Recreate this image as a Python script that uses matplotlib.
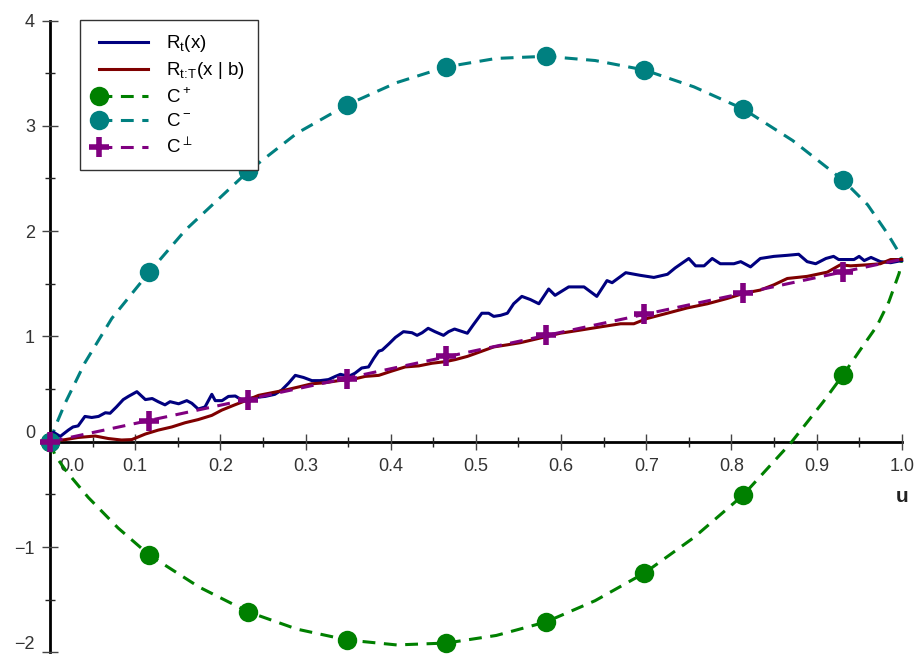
import numpy as np
import matplotlib
matplotlib.use('Agg')
import matplotlib.pyplot as plt
from matplotlib.lines import Line2D
from matplotlib.legend_handler import HandlerLine2D
from matplotlib.transforms import ScaledTranslation

plt.rcParams['font.family'] = ['Liberation Sans', 'DejaVu Sans']
plt.rcParams['mathtext.fontset'] = 'custom'
plt.rcParams['mathtext.rm'] = 'Liberation Sans'

# ── Data ─────────────────────────────────────────────────────────────────────
# noisy path R_t(x)
blue_u = [0.0, 0.004, 0.012, 0.0215, 0.027, 0.033, 0.041, 0.049, 0.057, 0.065,
          0.0705, 0.078, 0.086, 0.092, 0.102, 0.112, 0.12, 0.127, 0.135, 0.141,
          0.151, 0.1606, 0.1665, 0.174, 0.182, 0.19, 0.194, 0.202, 0.2095, 0.2175,
          0.2253, 0.233, 0.241, 0.2526, 0.264, 0.272, 0.28, 0.288, 0.2976, 0.3075,
          0.317, 0.327, 0.335, 0.341, 0.3505, 0.358, 0.366, 0.374, 0.38, 0.386,
          0.39, 0.398, 0.4055, 0.415, 0.425, 0.431, 0.437, 0.444, 0.452, 0.462,
          0.468, 0.475, 0.49, 0.497, 0.507, 0.515, 0.521, 0.529, 0.537, 0.5444,
          0.554, 0.564, 0.574, 0.5855, 0.593, 0.609, 0.627, 0.642, 0.654, 0.66,
          0.676, 0.693, 0.709, 0.725, 0.734, 0.75, 0.758, 0.768, 0.7775, 0.787,
          0.803, 0.811, 0.8225, 0.834, 0.85, 0.8657, 0.879, 0.889, 0.899, 0.911,
          0.92, 0.926, 0.936, 0.944, 0.95, 0.956, 0.964, 0.975, 0.987, 1.0]
blue_y = [0.0, 0.09, 0.05, 0.11, 0.14, 0.15, 0.24, 0.23, 0.24, 0.275,
          0.27, 0.33, 0.40, 0.43, 0.475, 0.40, 0.41, 0.38, 0.35, 0.38,
          0.36, 0.39, 0.365, 0.31, 0.33, 0.45, 0.39, 0.39, 0.43, 0.434,
          0.396, 0.41, 0.42, 0.43, 0.45, 0.49, 0.555, 0.63, 0.61, 0.58,
          0.58, 0.59, 0.62, 0.64, 0.62, 0.65, 0.70, 0.71, 0.79, 0.86,
          0.87, 0.93, 0.99, 1.045, 1.035, 1.01, 1.035, 1.077, 1.045, 1.01,
          1.045, 1.07, 1.03, 1.11, 1.22, 1.22, 1.19, 1.20, 1.22, 1.31,
          1.38, 1.35, 1.31, 1.45, 1.39, 1.47, 1.47, 1.38, 1.53, 1.51,
          1.605, 1.58, 1.56, 1.59, 1.65, 1.74, 1.67, 1.67, 1.74, 1.69,
          1.69, 1.71, 1.66, 1.74, 1.76, 1.77, 1.78, 1.71, 1.69, 1.74,
          1.76, 1.73, 1.73, 1.73, 1.76, 1.72, 1.75, 1.71, 1.70, 1.72]

# bridge R_{t:T}(x | b)
red_u = [0.0, 0.018, 0.033, 0.053, 0.0685, 0.084, 0.096, 0.112, 0.127, 0.143,
         0.1586, 0.174, 0.19, 0.2017, 0.217, 0.233, 0.2448, 0.2605, 0.276, 0.292,
         0.3075, 0.323, 0.339, 0.3545, 0.37, 0.386, 0.401, 0.417, 0.433, 0.4485,
         0.464, 0.476, 0.49, 0.5055, 0.521, 0.537, 0.552, 0.568, 0.5837, 0.599,
         0.6228, 0.646, 0.67, 0.6855, 0.701, 0.7247, 0.748, 0.772, 0.795, 0.815,
         0.834, 0.85, 0.8657, 0.889, 0.9126, 0.928, 0.94, 0.96, 0.975, 0.987, 1.0]
red_y = [0.0, 0.02, 0.04, 0.054, 0.03, 0.016, 0.02, 0.073, 0.11, 0.14,
         0.18, 0.21, 0.25, 0.30, 0.35, 0.40, 0.44, 0.465, 0.49, 0.52,
         0.55, 0.56, 0.58, 0.59, 0.62, 0.63, 0.67, 0.71, 0.72, 0.745,
         0.76, 0.78, 0.81, 0.855, 0.90, 0.92, 0.94, 0.97, 1.0, 1.03,
         1.06, 1.09, 1.12, 1.12, 1.17, 1.22, 1.27, 1.31, 1.36, 1.41,
         1.44, 1.49, 1.55, 1.57, 1.61, 1.68, 1.67, 1.68, 1.69, 1.73, 1.73]

# dashed curves
cminus_u = [0.0, 0.006, 0.018, 0.041, 0.0725, 0.1165, 0.159, 0.233, 0.29, 0.349,
            0.407, 0.4655, 0.524, 0.582, 0.64, 0.698, 0.756, 0.814, 0.872, 0.931,
            0.96, 0.983, 0.9965, 1.0]
cminus_y = [0.0, 0.14, 0.37, 0.75, 1.17, 1.61, 2.01, 2.57, 2.93, 3.20,
            3.41, 3.56, 3.64, 3.66, 3.62, 3.53, 3.37, 3.16, 2.86, 2.485,
            2.25, 1.98, 1.80, 1.732]
cplus_u = [0.0, 0.006, 0.0196, 0.045, 0.08, 0.1165, 0.175, 0.233, 0.29, 0.349,
           0.407, 0.4655, 0.524, 0.582, 0.64, 0.698, 0.756, 0.814, 0.87, 0.908,
           0.931, 0.952, 0.971, 0.985, 0.997, 1.0]
cplus_y = [0.0, -0.13, -0.285, -0.53, -0.82, -1.076, -1.38, -1.617, -1.78, -1.883,
           -1.93, -1.912, -1.84, -1.713, -1.51, -1.247, -0.91, -0.506, -0.01, 0.38,
           0.633, 0.88, 1.10, 1.33, 1.60, 1.732]
cperp_u = [0.0, 1.0]
cperp_y = [0.0, 1.732]

# marker positions along the C curves
mark_u = [0.0, 0.1165, 0.233, 0.349, 0.4655, 0.582, 0.698, 0.814, 0.931]
mark_plus = [0.0, -1.076, -1.617, -1.883, -1.912, -1.713, -1.247, -0.506, 0.633]
mark_minus = [0.0, 1.61, 2.57, 3.20, 3.56, 3.66, 3.53, 3.16, 2.485]
mark_perp = [0.0, 0.20, 0.40, 0.60, 0.81, 1.01, 1.21, 1.41, 1.61]

xticks_major = [0.0, 0.1, 0.2, 0.3, 0.4, 0.5, 0.6, 0.7, 0.8, 0.9, 1.0]
xticks_minor = [0.05, 0.15, 0.25, 0.35, 0.45, 0.55, 0.65, 0.75, 0.85, 0.95]
yticks_major = [-2, -1, 0, 1, 2, 3, 4]
yticks_minor = [-1.5, -0.5, 0.5, 1.5, 2.5, 3.5]

NAVY = '#00007f'
DRED = '#7f0000'
GREEN = '#008000'
TEAL = '#008080'
PURPLE = '#800080'

# ── Figure ───────────────────────────────────────────────────────────────────
W, H = 919, 654
fig = plt.figure(figsize=(W / 100, H / 100), dpi=100)
ax = fig.add_axes([0, 0, 1, 1])
ax.patch.set_alpha(0)

# pixel geometry: x=0 at px 50, x=1 at px 901.7; y=0 at py 441.7, 105.3 px/unit
x0, xs = 50.0, 851.7
y0, ys = 441.7, 105.3
ax.set_xlim(-x0 / xs, (W - x0) / xs)
ax.set_ylim(-(H - y0) / ys, y0 / ys)

dash = (0, (4.2, 2.8))
lw = 2.2
ms_dot = 14
ms_plus = 15
mew_plus = 4.0

ax.plot(cplus_u, cplus_y, color=GREEN, lw=lw, ls=dash, zorder=2)
ax.plot(cminus_u, cminus_y, color=TEAL, lw=lw, ls=dash, zorder=2)
ax.plot(blue_u, blue_y, color=NAVY, lw=lw, zorder=3)
ax.plot(red_u, red_y, color=DRED, lw=lw, zorder=3)
ax.plot(cperp_u, cperp_y, color=PURPLE, lw=lw, ls=dash, zorder=4)

ax.plot(mark_u, mark_plus, 'o', color=GREEN, ms=ms_dot, mec='none', zorder=5)
ax.plot(mark_u, mark_minus, 'o', color=TEAL, ms=ms_dot, mec='none', zorder=5)
ax.plot(mark_u, mark_perp, '+', color=PURPLE, ms=ms_plus, mew=mew_plus, zorder=6)

# ── Axes through the origin ─────────────────────────────────────────────────
for s in ['top', 'right']:
    ax.spines[s].set_visible(False)
ax.spines['left'].set_position(('data', 0))
ax.spines['bottom'].set_position(('data', 0))
ax.spines['left'].set_bounds(-2, 4)
ax.spines['bottom'].set_bounds(0, 1)
ax.spines['left'].set_linewidth(2.0)
ax.spines['bottom'].set_linewidth(2.0)
ax.spines['left'].set_zorder(1)
ax.spines['bottom'].set_zorder(1)

ax.set_xticks(xticks_major)
ax.set_xticklabels([f'{v:.1f}' for v in xticks_major])
ax.set_xticks(xticks_minor, minor=True)
ax.set_yticks(yticks_major)
ax.set_yticklabels([str(v).replace('-', '\u2212') for v in yticks_major])
ax.set_yticks(yticks_minor, minor=True)
ax.tick_params(which='major', direction='inout', length=11.5, width=1.0,
               color='#444444', labelsize=13, labelcolor='#333333')
ax.tick_params(which='minor', direction='inout', length=7, width=1.0,
               color='#222222')
ax.tick_params(axis='x', which='major', pad=6)
ax.tick_params(axis='y', which='major', pad=5)

# shift the labels at the origin (and the bottom one) as in the reference
for lab, v in zip(ax.get_xticklabels(), xticks_major):
    if v == 0.0:
        lab.set_transform(lab.get_transform()
                          + ScaledTranslation(0.22, 0, fig.dpi_scale_trans))
for lab, v in zip(ax.get_yticklabels(), yticks_major):
    if v == 0:
        lab.set_transform(lab.get_transform()
                          + ScaledTranslation(0, 0.10, fig.dpi_scale_trans))
    if v == -2:
        lab.set_transform(lab.get_transform()
                          + ScaledTranslation(0, 0.10, fig.dpi_scale_trans))

ax.text(1.0, -(497 - y0) / ys, 'u', ha='center', va='center', fontsize=15,
        fontweight='bold', color='#222222')


# ── Legend with marker at the left end of the sample line ───────────────────
class LeftMarker(HandlerLine2D):
    def create_artists(self, *args, **kwargs):
        arts = super().create_artists(*args, **kwargs)
        for a in arts:
            a.set_markevery([0])
        return arts


handles = [
    Line2D([], [], color=NAVY, lw=lw),
    Line2D([], [], color=DRED, lw=lw),
    Line2D([], [], color=GREEN, lw=lw, ls=dash, marker='o', ms=ms_dot, mec='none'),
    Line2D([], [], color=TEAL, lw=lw, ls=dash, marker='o', ms=ms_dot, mec='none'),
    Line2D([], [], color=PURPLE, lw=lw, ls=dash, marker='+', ms=ms_plus,
           mew=mew_plus),
]
labels = [r'R$_\mathrm{t}$(x)', r'R$_{\mathrm{t}\!:\!\mathrm{T}}$(x | b)',
          r'C$^+$', r'C$^-$', r'C$^\perp$']
leg = fig.legend(handles, labels, loc='upper left',
                 bbox_to_anchor=(80 / W, 1 - 20 / H), borderaxespad=0,
                 fontsize=13.5, frameon=True, fancybox=False, framealpha=1,
                 edgecolor='#333333', handlelength=3.2, handletextpad=0.7,
                 labelspacing=0.33, borderpad=0.7, numpoints=3,
                 handler_map={Line2D: LeftMarker(numpoints=3)})
leg.get_frame().set_linewidth(1.0)

fig.savefig('out.png', dpi=100)
